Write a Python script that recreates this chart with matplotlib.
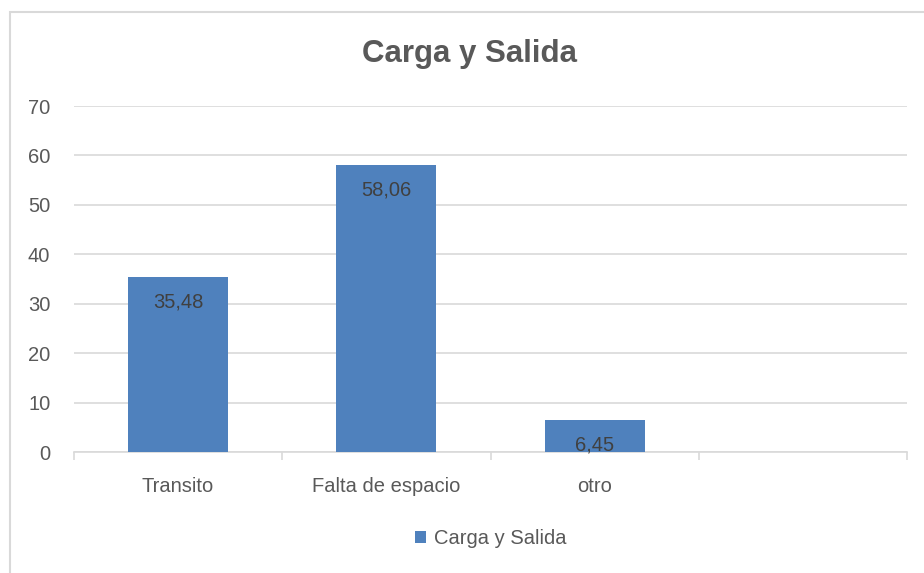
import numpy as np
import matplotlib.pyplot as plt
from matplotlib.patches import Rectangle

# datos
categorias = ["Transito", "Falta de espacio", "otro", ""]
valores = [35.48, 58.06, 6.45]
etiquetas = ["35,48", "58,06", "6,45"]
titulo = "Carga y Salida"
serie = "Carga y Salida"

azul = "#4f81bd"
gris_txt = "#595959"
plt.rcParams['font.family'] = ['Liberation Sans', 'DejaVu Sans']

fig = plt.figure(figsize=(9.24, 5.73), dpi=100)
fig.patches.append(Rectangle((10 / 924, -0.1), 1.2, 1.079, transform=fig.transFigure,
                             fill=False, edgecolor="#d9d9d9", linewidth=1.5))

ax = fig.add_axes([0.080, 0.211, 0.902, 0.604])
x = np.arange(len(categorias))
barras = ax.bar(x[:len(valores)], valores, width=0.48, color=azul, zorder=3)

for b, t in zip(barras, etiquetas):
    ax.annotate(t, (b.get_x() + b.get_width() / 2, b.get_height()),
                xytext=(0, -25), textcoords="offset pixels",
                ha="center", va="center", fontsize=14.5, color="#404040", zorder=4)

ax.set_xlim(-0.5, len(categorias) - 0.5)
ax.set_ylim(0, 70)
ax.set_yticks(range(0, 71, 10))
ax.grid(axis="y", color="#d9d9d9", linewidth=1.2, zorder=0)
ax.set_xticks(x)
ax.set_xticklabels(categorias)
ax.set_xticks(np.arange(-0.5, len(categorias)), minor=True)
ax.tick_params(axis="x", which="major", length=0, pad=18, labelsize=14.5, labelcolor=gris_txt)
ax.tick_params(axis="x", which="minor", length=6, color="#d9d9d9", width=1.2)
ax.tick_params(axis="y", length=0, pad=17, labelsize=14.5, labelcolor=gris_txt)
for s in ["top", "right", "left"]:
    ax.spines[s].set_visible(False)
ax.spines["bottom"].set_color("#d9d9d9")
ax.spines["bottom"].set_linewidth(1.2)

fig.text(0.508, 0.906, titulo, ha="center", va="center", fontsize=22.5,
         fontweight="bold", color=gris_txt)

leg = ax.legend([barras], [serie], loc="center", bbox_to_anchor=(0.5, -0.25),
                frameon=False, fontsize=14.5, handlelength=0.55, handleheight=0.55,
                handletextpad=0.4)
for t in leg.get_texts():
    t.set_color(gris_txt)

fig.savefig("out.png", dpi=100)
